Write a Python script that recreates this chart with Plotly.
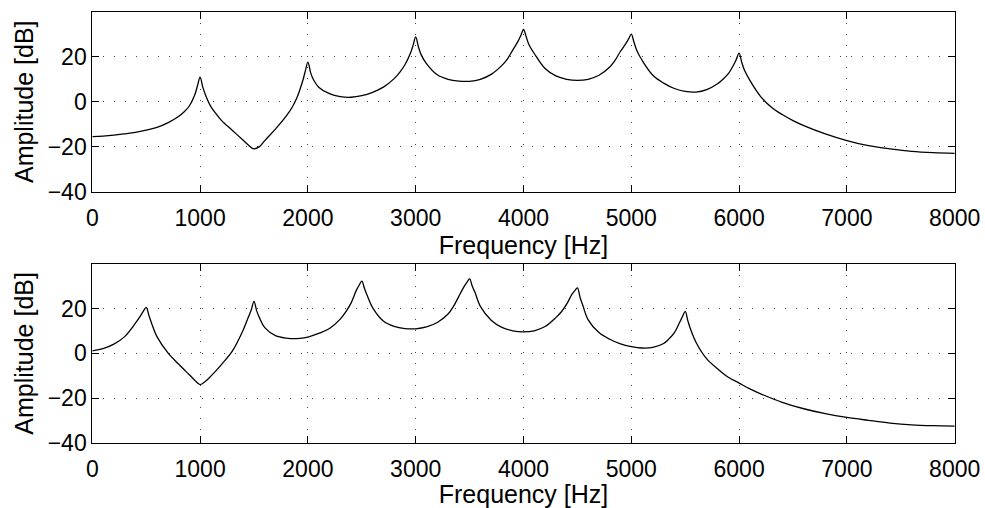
import plotly.graph_objects as go
from plotly.subplots import make_subplots

# ---------------- data ----------------
freq_top = [0, 100, 200, 300, 400, 500, 600, 700, 800, 850, 900, 950, 975, 1000, 1025, 1050,
            1100, 1150, 1200, 1300, 1400, 1450, 1500, 1550, 1600, 1700, 1800, 1850, 1900, 1950,
            1975, 2000, 2025, 2050, 2100, 2200, 2300, 2400, 2500, 2600, 2700, 2800, 2850, 2900,
            2950, 2975, 3000, 3025, 3050, 3100, 3200, 3300, 3400, 3500, 3600, 3700, 3800, 3850,
            3900, 3950, 3975, 4000, 4025, 4050, 4100, 4200, 4300, 4400, 4500, 4600, 4700, 4800,
            4850, 4900, 4950, 4975, 5000, 5025, 5050, 5100, 5200, 5300, 5400, 5500, 5600, 5700,
            5800, 5850, 5900, 5950, 5975, 6000, 6025, 6050, 6100, 6200, 6300, 6400, 6500, 6600,
            6800, 7000, 7200, 7400, 7600, 7800, 8000]
amp_top = [-15.5, -15.3, -14.9, -14.3, -13.6, -12.6, -11.4, -9.4, -6.6, -4.6, -1.9, 3.0, 7.0, 11.0, 6.5, 3.0,
           -2.2, -5.5, -8.4, -12.8, -17.2, -19.4, -21.0, -20.0, -17.3, -12.1, -6.3, -2.8, 2.0, 9.0,
           13.5, 17.7, 13.0, 10.0, 6.5, 3.6, 2.3, 2.0, 2.7, 4.2, 6.5, 10.3, 13.0, 16.5,
           21.5, 25.0, 28.9, 24.5, 21.0, 17.0, 12.0, 10.0, 9.2, 9.1, 10.0, 12.2, 16.2, 19.0,
           23.0, 27.0, 29.5, 32.2, 29.0, 25.5, 21.5, 14.8, 11.5, 10.0, 9.5, 10.0, 11.8, 15.5,
           18.5, 22.5, 26.0, 28.0, 30.1, 26.5, 23.0, 18.5, 11.8, 8.3, 5.9, 4.6, 4.3, 5.4,
           8.0, 10.0, 12.5, 16.5, 19.0, 21.7, 17.5, 14.0, 9.5, 2.3, -2.4, -5.7, -8.4, -10.6,
           -14.3, -17.3, -19.6, -21.0, -22.1, -22.7, -23.0]

freq_bottom = [0, 100, 200, 300, 400, 450, 475, 500, 525, 550, 600, 700, 800, 900, 950, 1000,
               1050, 1100, 1200, 1300, 1400, 1450, 1475, 1500, 1525, 1550, 1600, 1700, 1800, 1900,
               2000, 2100, 2200, 2300, 2350, 2400, 2450, 2475, 2500, 2525, 2550, 2600, 2700, 2800,
               2900, 3000, 3100, 3200, 3300, 3350, 3400, 3450, 3475, 3500, 3525, 3550, 3600, 3700,
               3800, 3900, 4000, 4100, 4200, 4300, 4350, 4400, 4450, 4475, 4500, 4525, 4550, 4600,
               4700, 4800, 4900, 5000, 5100, 5200, 5300, 5350, 5400, 5450, 5475, 5500, 5525, 5550,
               5600, 5700, 5800, 5900, 6000, 6100, 6200, 6400, 6600, 6800, 7000, 7200, 7400, 7600,
               7800, 8000]
amp_bottom = [1.1, 2.1, 4.1, 7.5, 13.5, 17.0, 19.0, 20.6, 17.0, 13.5, 7.5, 0.3, -4.8, -9.6, -12.0, -14.0,
              -12.5, -10.2, -4.9, 1.1, 10.5, 16.5, 19.5, 23.3, 19.0, 16.0, 11.5, 7.9, 6.8, 6.6,
              7.3, 8.9, 11.1, 15.3, 18.5, 22.5, 28.3, 30.5, 32.3, 29.0, 25.9, 20.5, 14.5, 12.1,
              11.1, 11.0, 11.8, 13.8, 17.6, 21.0, 25.5, 30.0, 31.8, 33.3, 30.0, 27.3, 21.0, 14.8,
              11.6, 10.1, 9.6, 10.1, 12.0, 16.0, 18.5, 22.0, 26.5, 28.0, 29.3, 25.0, 21.5, 15.0,
              9.3, 6.3, 4.2, 3.0, 2.4, 2.7, 4.4, 6.5, 9.3, 14.0, 16.5, 18.8, 14.5, 10.8,
              5.0, -2.5, -6.9, -10.7, -13.3, -15.9, -18.1, -21.9, -24.8, -27.0, -28.7, -30.0, -31.2, -32.0,
              -32.4, -32.6]

x_ticks = [0, 1000, 2000, 3000, 4000, 5000, 6000, 7000, 8000]
y_ticks = [-40, -20, 0, 20]
x_title = "Frequency [Hz]"
y_title = "Amplitude [dB]"

# ---------------- figure ----------------
W, H = 985, 508
fig = make_subplots(rows=2, cols=1)

line_style = dict(color="black", width=1.3, shape="spline", smoothing=1.0)
fig.add_trace(go.Scatter(x=freq_top, y=amp_top, mode="lines",
                         line=line_style, showlegend=False), row=1, col=1)
fig.add_trace(go.Scatter(x=freq_bottom, y=amp_bottom, mode="lines",
                         line=line_style, showlegend=False), row=2, col=1)

FAMILY = "Liberation Sans, Arial, Helvetica, sans-serif"
tick_font = dict(family=FAMILY, size=23, color="black")
title_font = dict(family=FAMILY, size=25, color="black")

axis_common = dict(showline=True, linecolor="black", linewidth=1, mirror="ticks",
                   ticks="inside", ticklen=7, tickcolor="black", tickwidth=1,
                   showgrid=True, gridcolor="#444", gridwidth=1, griddash="1px,10px",
                   zeroline=False, tickfont=tick_font, automargin=False)

top_dom = [1 - 191.5 / H, 1 - 12 / H]
bot_dom = [1 - 442.7 / H, 1 - 264 / H]
x_dom = [92.3 / W, 954.7 / W]

for i, dom in ((1, top_dom), (2, bot_dom)):
    fig.update_xaxes(row=i, col=1, range=[0, 8000], tickvals=x_ticks, domain=x_dom,
                     ticklabelstandoff=6,
                     title=dict(text=x_title, font=title_font, standoff=1), **axis_common)
    fig.update_yaxes(row=i, col=1, range=[-40, 40], tickvals=y_ticks, domain=dom,
                     title=dict(text=y_title, font=title_font, standoff=6), **axis_common)

fig.update_layout(width=W, height=H, margin=dict(l=0, r=0, t=0, b=0),
                  paper_bgcolor="white", plot_bgcolor="white", font=tick_font)

fig.write_html("out.html")
